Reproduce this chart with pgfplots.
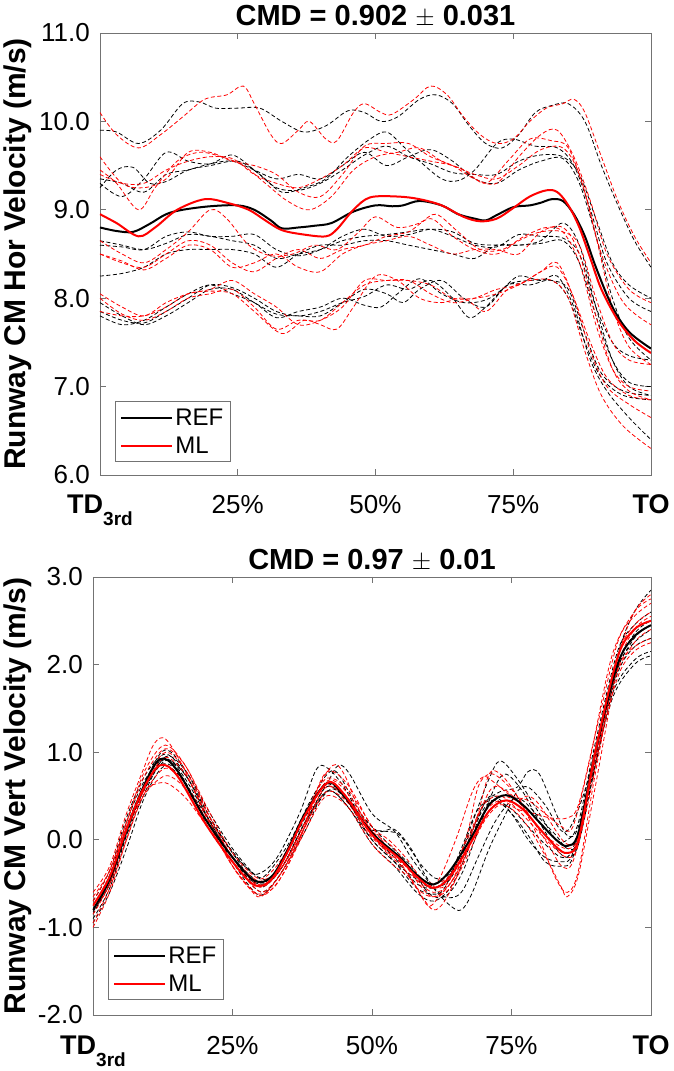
\documentclass[border=0pt]{standalone}
\usepackage{fontspec}
\setmainfont{Liberation Sans}
\usepackage{pgfplots}
\pgfplotsset{compat=1.18}

\definecolor{frame}{gray}{0.45}

\pgfplotsset{
  panel/.style={
    scale only axis,
    anchor=south west,
    xmin=0, xmax=100,
    xtick={0,25,50,75,100},
    xticklabels={{\fontsize{27}{30}\selectfont\bfseries TD\raisebox{-12pt}{\fontsize{19}{22}\selectfont 3rd}},25\%,50\%,75\%,{\fontsize{27}{30}\selectfont\bfseries TO}},
    tick label style={font=\fontsize{26}{30}\selectfont},
    xticklabel style={anchor=base, yshift=-39pt},
    yticklabel style={anchor=east, inner sep=0pt, xshift=-10pt},
    tick align=inside,
    major tick length=6pt,
    every tick/.style={frame, line width=0.8pt},
    axis line style={frame, line width=0.9pt},
    every axis title shift=0pt,
    title style={at={(0.5,1)}, anchor=base, yshift=7pt, font=\fontsize{29}{34}\selectfont\bfseries},
    label style={font=\fontsize{30}{36}\selectfont\bfseries},
    legend cell align=left,
    legend style={draw=frame, line width=0.8pt, font=\fontsize{24}{28}\selectfont,
      inner xsep=5pt, inner ysep=5pt, row sep=6pt, anchor=south west},
    legend image code/.code={\draw[#1] (0pt,0pt) -- (51pt,0pt);},
  },
  refd/.style={black, line width=0.8pt, dash pattern=on 4pt off 2.5pt, smooth, tension=0.55, forget plot},
  mld/.style={red, line width=0.8pt, dash pattern=on 4pt off 2.5pt, smooth, tension=0.55, forget plot},
  refm/.style={black, line width=2pt, smooth, tension=0.55},
  mlm/.style={red, line width=2pt, smooth, tension=0.55},
}

\begin{document}
\begin{tikzpicture}[x=1pt,y=1pt]

% ---------------- horizontal velocity ----------------
\begin{axis}[panel,
  at={(100pt,596pt)}, width=551pt, height=442pt,
  ymin=6, ymax=11,
  ytick={6,7,8,9,10,11},
  yticklabels={6.0,7.0,8.0,9.0,10.0,11.0},
  title={CMD = 0.902 $\pm$ 0.031},
  ylabel={Runway CM Hor Velocity (m/s)},
  ylabel style={at={([xshift=-74pt]axis description cs:0,0.5)}, anchor=base},
  legend style={at={([xshift=15pt,yshift=13pt]axis description cs:0,0)}},
]
% subject trials, reference
\addplot[refd] coordinates {(0,9.9)(3,9.88)(7,9.75)(11,9.9)(15,10.2)(18,10.22)(21,10.15)(25,10.15)(29,10.15)(33,10.0)(37,9.88)(41,9.95)(45,10.12)(48,10.1)(51,10.0)(54,10.05)(58,10.25)(61,10.3)(64,10.2)(67,9.95)(70,9.75)(73,9.7)(76,9.85)(79,10.1)(82,10.18)(85,10.2)(88,10.0)(91,9.5)(94,9.05)(97,8.65)(100,8.35)};
\addplot[refd] coordinates {(0,9.3)(4,9.15)(8,9.35)(12,9.65)(16,9.55)(20,9.52)(24,9.62)(28,9.45)(32,9.25)(36,9.22)(40,9.3)(44,9.45)(48,9.62)(52,9.72)(56,9.6)(60,9.52)(64,9.42)(68,9.4)(72,9.4)(76,9.55)(80,9.62)(84,9.6)(87,9.4)(90,8.9)(93,8.4)(96,8.15)(100,8.0)};
\addplot[refd] coordinates {(0,9.25)(3,9.45)(6,9.48)(9,9.3)(12,9.32)(16,9.45)(20,9.5)(25,9.55)(29,9.4)(33,9.2)(37,9.25)(41,9.35)(45,9.6)(49,9.8)(52,9.88)(55,9.72)(58,9.55)(62,9.35)(65,9.33)(68,9.45)(72,9.75)(75,9.8)(79,9.72)(83,9.7)(86,9.5)(89,9.0)(92,8.4)(96,8.0)(100,7.85)};
\addplot[refd] coordinates {(0,9.35)(4,9.3)(8,9.2)(12,9.4)(16,9.45)(20,9.52)(24,9.55)(28,9.45)(32,9.35)(36,9.4)(40,9.35)(44,9.5)(48,9.65)(52,9.5)(56,9.6)(60,9.68)(64,9.55)(68,9.35)(72,9.3)(76,9.45)(80,9.55)(84,9.58)(87,9.3)(90,8.7)(93,8.0)(96,7.55)(100,7.3)};
\addplot[refd] coordinates {(0,8.6)(4,8.58)(8,8.55)(12,8.7)(16,8.75)(20,8.7)(24,8.7)(28,8.72)(32,8.55)(36,8.48)(40,8.55)(44,8.7)(48,8.78)(52,8.7)(56,8.72)(60,8.78)(64,8.75)(68,8.62)(72,8.6)(76,8.6)(80,8.62)(84,8.65)(87,8.4)(90,7.8)(93,7.3)(96,7.05)(100,7.0)};
\addplot[refd] coordinates {(0,8.25)(4,8.28)(8,8.35)(12,8.5)(16,8.55)(20,8.55)(24,8.55)(28,8.5)(32,8.35)(36,8.5)(40,8.6)(44,8.6)(48,8.65)(52,8.65)(56,8.6)(60,8.55)(64,8.5)(68,8.45)(72,8.6)(76,8.6)(80,8.65)(84,8.85)(87,8.6)(90,7.9)(93,7.3)(96,7.0)(100,6.9)};
\addplot[refd] coordinates {(0,8.65)(4,8.6)(8,8.55)(12,8.62)(16,8.72)(20,8.7)(24,8.65)(28,8.6)(32,8.45)(36,8.5)(40,8.55)(44,8.65)(48,8.7)(52,8.72)(56,8.75)(60,8.78)(64,8.7)(68,8.6)(72,8.58)(76,8.72)(80,8.7)(84,8.68)(87,8.5)(90,7.9)(93,7.5)(96,7.35)(100,7.3)};
\addplot[refd] coordinates {(0,7.85)(4,7.75)(8,7.72)(12,7.85)(16,8.0)(20,8.15)(24,8.12)(28,8.0)(32,7.85)(36,7.8)(40,7.85)(44,7.95)(48,8.02)(52,8.15)(56,8.1)(60,8.2)(64,8.0)(67,7.78)(70,7.9)(74,8.15)(78,8.2)(82,8.2)(85,8.1)(88,7.6)(91,7.15)(95,6.95)(100,6.9)};
\addplot[refd] coordinates {(0,7.8)(4,7.7)(8,7.75)(12,7.9)(16,8.05)(20,8.15)(24,8.05)(28,7.95)(32,7.78)(36,7.85)(40,7.9)(44,8.0)(48,7.92)(51,7.9)(54,8.05)(58,8.22)(62,8.05)(66,7.95)(70,7.98)(73,8.1)(76,8.25)(80,8.2)(83,8.25)(86,7.9)(89,7.3)(92,6.95)(96,6.65)(100,6.4)};
\addplot[refd] coordinates {(0,7.95)(4,7.8)(8,7.7)(12,7.8)(16,7.95)(20,8.1)(24,8.1)(28,7.95)(32,7.82)(36,7.8)(40,7.8)(44,7.95)(48,8.1)(52,8.05)(55,7.95)(58,8.1)(62,8.2)(66,8.0)(70,7.9)(74,8.15)(78,8.15)(82,8.2)(85,8.0)(88,7.5)(91,7.1)(95,6.9)(100,6.85)};
% subject trials, model
\addplot[mld] coordinates {(0,10.1)(3,9.85)(7,9.7)(11,9.85)(15,10.05)(19,10.25)(23,10.3)(26,10.4)(28,10.2)(31,9.85)(33,9.75)(36,9.9)(38,10.0)(41,9.8)(43,9.78)(46,10.1)(48,10.2)(51,10.1)(53,10.08)(57,10.25)(60,10.4)(63,10.3)(66,10.05)(69,9.85)(72,9.75)(75,9.8)(78,10.0)(81,10.15)(84,10.2)(86,10.25)(88,10.1)(91,9.6)(94,9.1)(97,8.7)(100,8.4)};
\addplot[mld] coordinates {(0,9.6)(4,9.3)(8,9.25)(12,9.35)(16,9.65)(20,9.65)(24,9.55)(28,9.5)(32,9.4)(36,9.2)(40,9.15)(44,9.4)(48,9.72)(52,9.75)(56,9.75)(60,9.6)(64,9.5)(68,9.35)(72,9.3)(76,9.6)(80,9.85)(83,9.9)(86,9.6)(89,9.1)(92,8.5)(96,8.1)(100,7.95)};
\addplot[mld] coordinates {(0,9.45)(3,9.3)(7,9.0)(10,9.25)(14,9.55)(18,9.65)(22,9.6)(26,9.5)(30,9.3)(34,9.1)(38,9.0)(42,9.15)(46,9.45)(50,9.6)(54,9.65)(58,9.7)(62,9.55)(66,9.45)(70,9.3)(74,9.55)(78,9.8)(82,9.78)(85,9.7)(88,9.2)(91,8.5)(95,7.95)(100,7.7)};
\addplot[mld] coordinates {(0,9.4)(4,9.3)(8,9.3)(12,9.45)(16,9.55)(20,9.6)(24,9.58)(28,9.4)(32,9.3)(36,9.25)(40,9.35)(44,9.5)(48,9.7)(52,9.65)(56,9.6)(60,9.55)(64,9.5)(68,9.4)(72,9.35)(76,9.5)(80,9.68)(84,9.7)(87,9.4)(90,8.7)(93,7.9)(96,7.45)(100,7.25)};
\addplot[mld] coordinates {(0,8.65)(4,8.5)(8,8.4)(12,8.55)(16,8.75)(20,9.0)(23,8.9)(27,8.6)(31,8.48)(35,8.5)(39,8.6)(43,8.55)(47,8.75)(50,8.92)(54,8.8)(58,8.85)(61,8.95)(65,8.75)(69,8.55)(73,8.55)(77,8.7)(81,8.8)(84,8.75)(87,8.4)(90,7.7)(93,7.2)(96,7.0)(100,6.95)};
\addplot[mld] coordinates {(0,8.5)(4,8.42)(8,8.32)(12,8.45)(16,8.6)(20,8.55)(24,8.35)(28,8.4)(32,8.5)(36,8.35)(40,8.3)(44,8.5)(48,8.6)(52,8.65)(56,8.7)(60,8.6)(64,8.5)(68,8.55)(72,8.55)(76,8.5)(80,8.75)(84,8.8)(87,8.5)(90,7.8)(93,7.2)(96,6.95)(100,6.85)};
\addplot[mld] coordinates {(0,8.5)(4,8.4)(8,8.35)(12,8.5)(16,8.65)(20,8.6)(24,8.4)(28,8.3)(32,8.45)(36,8.55)(40,8.45)(44,8.55)(48,8.6)(52,8.7)(56,8.75)(60,8.9)(64,8.7)(68,8.55)(72,8.5)(76,8.65)(80,8.75)(84,8.75)(87,8.6)(90,8.0)(93,7.5)(96,7.3)(100,7.25)};
\addplot[mld] coordinates {(0,8.05)(4,7.9)(8,7.8)(12,7.95)(16,8.05)(20,8.1)(24,8.2)(28,8.05)(32,7.9)(36,7.7)(40,7.75)(44,7.9)(48,8.2)(52,8.2)(56,8.2)(60,8.15)(64,8.0)(68,8.0)(72,8.05)(76,8.15)(80,8.3)(83,8.4)(86,8.0)(89,7.5)(92,7.1)(96,6.9)(100,6.85)};
\addplot[mld] coordinates {(0,7.85)(4,7.8)(8,7.8)(12,7.9)(16,8.05)(20,8.08)(24,8.05)(28,7.85)(33,7.6)(37,7.75)(40,7.7)(43,7.65)(46,7.9)(50,8.25)(54,8.2)(58,8.0)(62,7.95)(66,8.0)(70,7.85)(74,8.1)(78,8.2)(82,8.2)(85,8.0)(88,7.4)(91,6.9)(95,6.55)(100,6.3)};
\addplot[mld] coordinates {(0,8.0)(4,7.82)(8,7.75)(12,7.85)(16,8.0)(20,8.05)(24,8.1)(28,7.9)(32,7.65)(36,7.75)(40,7.75)(44,7.95)(48,8.15)(52,8.2)(56,8.2)(60,8.05)(64,7.95)(68,8.0)(72,8.1)(76,8.15)(80,8.3)(83,8.35)(86,8.0)(89,7.4)(92,7.0)(96,6.8)(100,6.65)};
% means
\addplot[refm] coordinates {(0,8.8)(3,8.76)(6,8.75)(9,8.84)(12,8.95)(15,9.0)(20,9.04)(25,9.05)(28,9.0)(31,8.88)(33,8.79)(36,8.8)(39,8.82)(42,8.85)(46,8.98)(50,9.05)(53,9.04)(55,9.05)(58,9.1)(62,9.05)(65,8.95)(68,8.9)(70,8.88)(72,8.94)(75,9.03)(78,9.05)(80,9.08)(82,9.12)(84,9.1)(86,8.95)(88,8.7)(90,8.35)(93,7.9)(96,7.62)(100,7.43)};
\addlegendentry{REF}
\addplot[mlm] coordinates {(0,8.95)(3,8.85)(7,8.7)(10,8.8)(14,9.0)(19,9.12)(23,9.08)(27,9.0)(30,8.88)(33,8.77)(37,8.72)(41,8.7)(43,8.78)(46,9.0)(49,9.14)(54,9.15)(58,9.12)(62,9.05)(66,8.92)(69,8.87)(72,8.9)(75,9.02)(78,9.15)(81,9.22)(83,9.2)(85,9.05)(87,8.8)(89,8.45)(91,8.1)(94,7.75)(97,7.52)(100,7.38)};
\addlegendentry{ML}
\end{axis}

% ---------------- vertical velocity ----------------
\begin{axis}[panel,
  at={(93pt,56pt)}, width=558pt, height=438pt,
  ymin=-2, ymax=3,
  ytick={-2,-1,0,1,2,3},
  yticklabels={-2.0,-1.0,0.0,1.0,2.0,3.0},
  title={CMD = 0.97 $\pm$ 0.01},
  ylabel={Runway CM Vert Velocity (m/s)},
  ylabel style={at={([xshift=-67pt]axis description cs:0,0.5)}, anchor=base},
  legend style={at={([xshift=15pt,yshift=15pt]axis description cs:0,0)}},
]
% subject trials, reference
\addplot[refd] coordinates {(0,-0.9)(3,-0.55)(6,0.05)(9,0.6)(12,0.98)(14,1.0)(17,0.75)(21,0.25)(25,-0.15)(29,-0.4)(31,-0.4)(35,-0.05)(39,0.45)(42,0.75)(44,0.75)(48,0.3)(53,-0.05)(57,-0.3)(60,-0.6)(63,-0.65)(66,-0.4)(69,0.1)(72,0.6)(74,0.75)(77,0.55)(80,0.2)(83,-0.1)(85,-0.2)(87,-0.05)(90,0.85)(94,1.95)(97,2.25)(100,2.4)};
\addplot[refd] coordinates {(0,-0.8)(3,-0.5)(6,0.1)(9,0.55)(12,0.85)(15,0.8)(19,0.4)(24,-0.05)(28,-0.35)(30,-0.38)(33,-0.2)(37,0.3)(40,0.8)(42,0.82)(45,0.6)(49,0.15)(52,0.1)(55,0.05)(59,-0.3)(62,-0.45)(65,-0.3)(68,0.2)(71,0.7)(73,0.9)(76,0.7)(80,0.3)(83,0.0)(85,0.0)(87,0.2)(90,1.1)(94,2.15)(97,2.45)(100,2.6)};
\addplot[refd] coordinates {(0,-0.95)(3,-0.6)(6,-0.1)(9,0.45)(12,0.8)(14,0.82)(17,0.6)(21,0.1)(25,-0.25)(29,-0.55)(31,-0.58)(34,-0.35)(38,0.15)(41,0.55)(43,0.6)(46,0.4)(50,0.0)(54,-0.25)(58,-0.55)(61,-0.62)(63,-0.55)(66,-0.1)(69,0.35)(72,0.45)(75,0.3)(78,0.05)(81,-0.25)(84,-0.3)(86,-0.2)(89,0.55)(93,1.65)(97,2.05)(100,2.15)};
\addplot[refd] coordinates {(0,-0.7)(3,-0.35)(6,0.25)(9,0.7)(12,0.95)(14,0.95)(17,0.7)(21,0.2)(25,-0.2)(28,-0.45)(31,-0.5)(34,-0.3)(38,0.2)(42,0.55)(44,0.55)(47,0.35)(51,0.1)(54,0.12)(57,-0.1)(60,-0.45)(63,-0.65)(66,-0.6)(69,-0.2)(72,0.2)(75,0.45)(77,0.45)(80,0.25)(83,0.05)(85,-0.1)(87,0.0)(90,0.9)(94,2.1)(97,2.6)(100,2.85)};
\addplot[refd] coordinates {(0,-0.85)(3,-0.45)(6,0.15)(9,0.6)(12,0.88)(14,0.9)(17,0.65)(21,0.2)(25,-0.2)(29,-0.45)(31,-0.48)(34,-0.25)(38,0.25)(41,0.6)(43,0.62)(46,0.45)(50,0.05)(54,-0.2)(58,-0.5)(61,-0.55)(64,-0.45)(67,-0.05)(70,0.4)(73,0.55)(76,0.6)(78,0.78)(80,0.75)(83,0.3)(85,0.05)(87,0.15)(90,1.0)(94,1.9)(97,2.2)(100,2.3)};
\addplot[refd] coordinates {(0,-0.75)(3,-0.4)(6,0.2)(9,0.65)(12,0.9)(14,0.9)(17,0.7)(21,0.25)(25,-0.15)(29,-0.5)(31,-0.52)(34,-0.3)(38,0.2)(41,0.5)(43,0.55)(46,0.35)(50,0.0)(54,-0.25)(58,-0.45)(61,-0.55)(64,-0.4)(67,0.0)(70,0.35)(72,0.45)(75,0.35)(78,0.15)(81,-0.05)(84,-0.2)(86,-0.1)(89,0.6)(93,1.6)(97,2.0)(100,2.1)};
\addplot[refd] coordinates {(0,-0.8)(3,-0.5)(6,0.05)(9,0.5)(12,0.88)(14,0.95)(17,0.75)(21,0.3)(25,-0.1)(29,-0.4)(31,-0.45)(34,-0.3)(38,0.2)(42,0.65)(44,0.85)(46,0.75)(50,0.3)(54,0.1)(57,-0.2)(61,-0.55)(64,-0.75)(66,-0.8)(68,-0.6)(71,-0.1)(74,0.3)(76,0.55)(78,0.6)(81,0.4)(84,0.1)(86,0.2)(89,0.75)(93,1.85)(97,2.35)(100,2.5)};
\addplot[refd] coordinates {(0,-0.82)(3,-0.5)(6,0.1)(9,0.55)(12,0.85)(14,0.9)(17,0.7)(21,0.2)(25,-0.25)(29,-0.6)(31,-0.6)(34,-0.35)(38,0.1)(41,0.5)(43,0.55)(46,0.35)(50,-0.05)(54,-0.3)(58,-0.6)(61,-0.7)(64,-0.55)(67,-0.15)(70,0.4)(72,0.5)(75,0.3)(78,0.0)(81,-0.2)(84,-0.25)(86,-0.15)(89,0.65)(93,1.8)(97,2.3)(100,2.45)};
% subject trials, model
\addplot[mld] coordinates {(0,-0.6)(3,-0.3)(6,0.3)(9,0.8)(11,1.1)(13,1.15)(16,0.85)(20,0.3)(24,-0.2)(28,-0.55)(30,-0.65)(33,-0.45)(37,0.0)(40,0.55)(43,0.85)(45,0.75)(48,0.3)(52,-0.1)(56,-0.35)(59,-0.65)(61,-0.8)(63,-0.7)(66,-0.3)(69,0.3)(71,0.75)(73,0.75)(76,0.5)(80,0.0)(83,-0.45)(85,-0.6)(87,-0.35)(90,0.75)(94,2.05)(97,2.6)(100,2.8)};
\addplot[mld] coordinates {(0,-0.75)(3,-0.45)(6,0.15)(9,0.55)(12,0.65)(14,0.62)(17,0.45)(21,0.1)(25,-0.25)(29,-0.55)(31,-0.58)(34,-0.35)(38,0.15)(41,0.5)(43,0.55)(46,0.4)(50,0.05)(54,-0.15)(58,-0.4)(61,-0.5)(64,-0.4)(67,0.0)(70,0.4)(73,0.5)(76,0.35)(79,0.15)(82,-0.05)(85,-0.2)(87,-0.05)(90,0.95)(94,1.95)(97,2.2)(100,2.3)};
\addplot[mld] coordinates {(0,-0.85)(3,-0.5)(6,0.1)(9,0.6)(12,0.95)(14,0.98)(17,0.75)(21,0.25)(25,-0.2)(29,-0.5)(31,-0.52)(34,-0.3)(38,0.2)(41,0.6)(43,0.68)(46,0.5)(50,0.1)(53,-0.15)(55,-0.25)(58,-0.55)(61,-0.65)(64,-0.5)(67,-0.1)(70,0.3)(73,0.45)(76,0.35)(79,0.3)(82,0.25)(85,0.25)(87,0.4)(90,1.2)(94,2.25)(97,2.55)(100,2.7)};
\addplot[mld] coordinates {(0,-1.0)(3,-0.6)(6,0.0)(9,0.5)(12,0.78)(14,0.8)(17,0.6)(21,0.15)(25,-0.3)(29,-0.6)(31,-0.62)(34,-0.4)(38,0.1)(41,0.45)(43,0.5)(46,0.35)(50,-0.05)(54,-0.3)(57,-0.45)(60,-0.75)(62,-0.65)(65,-0.4)(68,0.1)(71,0.55)(73,0.6)(76,0.45)(79,0.2)(82,-0.1)(84,-0.3)(86,-0.25)(89,0.5)(93,1.75)(97,2.25)(100,2.4)};
\addplot[mld] coordinates {(0,-0.7)(3,-0.35)(6,0.2)(9,0.7)(12,1.0)(14,1.02)(17,0.8)(21,0.25)(25,-0.2)(29,-0.48)(31,-0.5)(34,-0.3)(38,0.2)(41,0.7)(43,0.78)(46,0.6)(50,0.15)(53,0.0)(56,-0.2)(59,-0.45)(62,-0.55)(64,-0.45)(67,0.05)(69,0.6)(71,0.75)(73,0.7)(76,0.5)(79,0.2)(82,0.0)(85,-0.1)(87,0.05)(90,1.0)(94,2.1)(97,2.45)(100,2.6)};
\addplot[mld] coordinates {(0,-0.8)(3,-0.5)(6,0.1)(9,0.5)(12,0.7)(14,0.72)(17,0.55)(21,0.15)(25,-0.2)(29,-0.45)(31,-0.45)(34,-0.3)(38,0.15)(41,0.55)(43,0.6)(46,0.45)(50,0.1)(54,-0.1)(58,-0.45)(61,-0.6)(64,-0.5)(67,-0.15)(70,0.3)(73,0.5)(76,0.45)(78,0.5)(80,0.4)(83,0.1)(85,-0.05)(87,0.05)(90,0.9)(94,1.85)(97,2.15)(100,2.25)};
\addplot[mld] coordinates {(0,-0.95)(3,-0.55)(6,0.0)(9,0.55)(12,0.9)(14,0.92)(17,0.7)(21,0.2)(25,-0.3)(28,-0.55)(30,-0.62)(33,-0.5)(37,0.0)(40,0.5)(42,0.62)(45,0.5)(49,0.1)(53,-0.15)(56,-0.3)(59,-0.55)(61,-0.65)(64,-0.55)(67,-0.2)(70,0.2)(73,0.4)(76,0.3)(79,0.05)(82,-0.3)(84,-0.55)(85,-0.65)(87,-0.4)(90,0.6)(94,1.95)(97,2.4)(100,2.55)};
\addplot[mld] coordinates {(0,-0.65)(3,-0.35)(6,0.2)(9,0.75)(12,1.05)(14,1.05)(17,0.8)(21,0.3)(25,-0.15)(29,-0.42)(31,-0.42)(34,-0.2)(38,0.3)(41,0.65)(43,0.7)(46,0.55)(50,0.15)(53,-0.1)(57,-0.35)(60,-0.52)(62,-0.45)(65,0.0)(68,0.55)(70,0.72)(72,0.65)(75,0.5)(78,0.45)(81,0.3)(84,0.15)(86,0.15)(89,0.9)(93,2.1)(97,2.6)(100,2.75)};
% means
\addplot[refm] coordinates {(0,-0.8)(3,-0.45)(6,0.1)(9,0.6)(12,0.92)(15,0.8)(20,0.25)(25,-0.2)(29,-0.47)(32,-0.42)(35,-0.1)(38,0.3)(42,0.65)(45,0.5)(50,0.08)(55,-0.2)(58,-0.4)(61,-0.51)(64,-0.35)(68,0.05)(71,0.4)(74,0.51)(77,0.4)(80,0.2)(83,0.0)(85,-0.07)(87,0.08)(90,1.0)(94,2.0)(97,2.32)(100,2.45)};
\addlegendentry{REF}
\addplot[mlm] coordinates {(0,-0.75)(3,-0.42)(6,0.12)(9,0.58)(12,0.85)(15,0.74)(20,0.2)(25,-0.25)(29,-0.52)(32,-0.45)(35,-0.12)(38,0.28)(42,0.65)(45,0.52)(50,0.06)(55,-0.22)(58,-0.42)(61,-0.55)(64,-0.42)(68,0.0)(71,0.33)(74,0.45)(77,0.35)(80,0.13)(83,-0.08)(85,-0.15)(87,0.0)(90,1.0)(94,2.08)(97,2.4)(100,2.5)};
\addlegendentry{ML}
\end{axis}

\pgfresetboundingbox
\path (0pt,0pt) rectangle (673pt,1071pt);
\end{tikzpicture}
\end{document}
